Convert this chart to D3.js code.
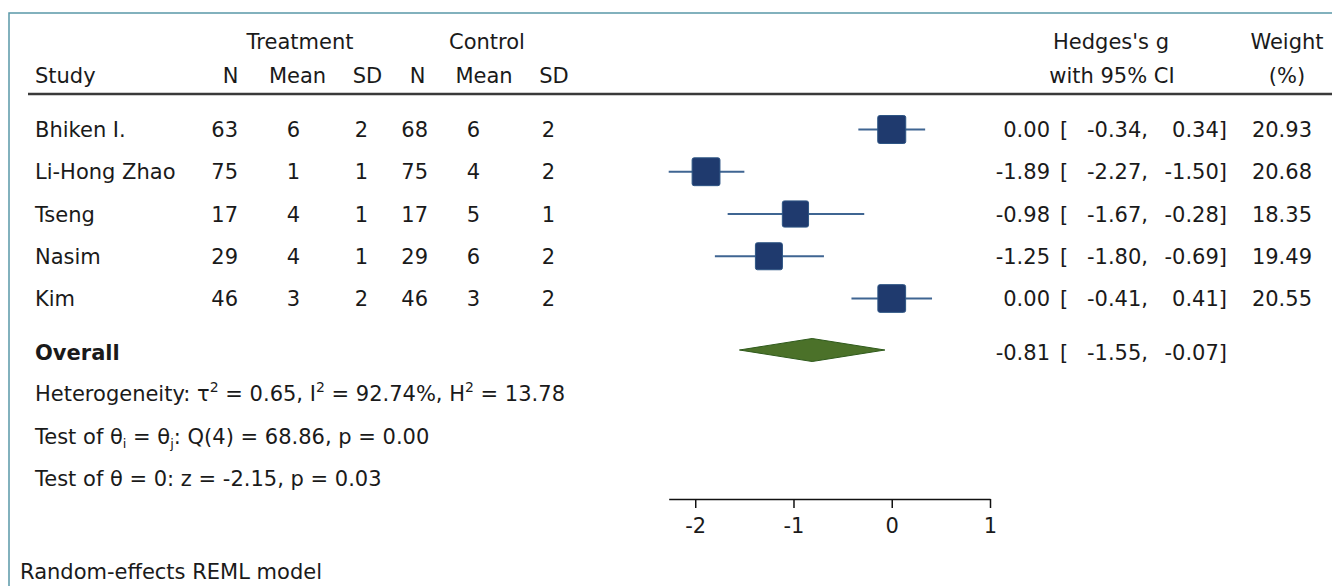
<!DOCTYPE html>
<html>
<head>
<meta charset="utf-8">
<script src="https://cdn.jsdelivr.net/npm/d3@7"></script>
<style>
  body { margin: 0; background: #fff; }
  svg { display: block; }
  text { font-family: "DejaVu Sans", sans-serif; font-size: 21px; fill: #1a1a1a; }
</style>
</head>
<body>
<svg width="1332" height="586"></svg>
<script>
// study table
var studies  = ["Bhiken I.", "Li-Hong Zhao", "Tseng", "Nasim", "Kim"];
var trtN     = [63, 75, 17, 29, 46];
var trtMean  = [6, 1, 4, 4, 3];
var trtSD    = [2, 1, 1, 1, 2];
var ctlN     = [68, 75, 17, 29, 46];
var ctlMean  = [6, 4, 5, 6, 3];
var ctlSD    = [2, 2, 1, 2, 2];

// effect sizes (Hedges's g, 95% CI) and weights
var hedgesG  = [0.00, -1.89, -0.98, -1.25, 0.00];
var ciLow    = [-0.34, -2.27, -1.67, -1.80, -0.41];
var ciHigh   = [0.34, -1.50, -0.28, -0.69, 0.41];
var weights  = [20.93, 20.68, 18.35, 19.49, 20.55];

var overallG = -0.81, overallLow = -1.55, overallHigh = -0.07;
var axisTicks = [-2, -1, 0, 1];

var svg = d3.select("svg");
var fmt = v => v.toFixed(2);   // plain hyphen minus, like the original

// x scale for the forest plot
var x = d3.scaleLinear()
    .domain([d3.min(ciLow), 1])
    .range([668.7, 990]);

// row centers
var y = d3.scaleLinear()
    .domain([0, studies.length - 1])
    .range([129.5, 298.5]);
var overallY = 350;
var base = 7.5;   // center -> text baseline

var side = d3.scaleSqrt()
    .domain([0, d3.max(weights)])
    .range([0, 28]);

// frame
svg.append("path")
    .attr("d", "M9,586V13H1332")
    .attr("fill", "none")
    .attr("stroke", "#5a98a8")
    .attr("stroke-width", 1.5);

// headers
function label(tx, ty, str, anchor) {
    return svg.append("text")
        .attr("x", tx).attr("y", ty)
        .attr("text-anchor", anchor || "start")
        .text(str);
}
label(300, 49, "Treatment", "middle");
label(487, 49, "Control", "middle");
label(1111, 49, "Hedges's g", "middle");
label(1287, 49, "Weight", "middle");

label(35, 83, "Study");
var subHeads = [["N", 230.5], ["Mean", 297.5], ["SD", 367.5], ["N", 417.5], ["Mean", 484], ["SD", 554]];
subHeads.forEach(h => label(h[1], 83, h[0], "middle"));
label(1112, 83, "with 95% CI", "middle");
label(1287, 83, "(%)", "middle");

svg.append("line")
    .attr("x1", 28).attr("x2", 1332)
    .attr("y1", 94).attr("y2", 94)
    .attr("stroke", "#3a3a3a")
    .attr("stroke-width", 2.5);

// table columns
var columns = [
    { vals: trtN, x: 238 },
    { vals: trtMean, x: 300 },
    { vals: trtSD, x: 368 },
    { vals: ctlN, x: 428 },
    { vals: ctlMean, x: 480 },
    { vals: ctlSD, x: 555 }
];

studies.forEach((s, i) => {
    var ty = y(i) + base;
    label(35, ty, s);
    columns.forEach(c => label(c.x, ty, c.vals[i], "end"));
    label(1050, ty, fmt(hedgesG[i]), "end");
    label(1060, ty, "[");
    label(1148, ty, fmt(ciLow[i]) + ",", "end");
    label(1227, ty, fmt(ciHigh[i]) + "]", "end");
    label(1312, ty, fmt(weights[i]), "end");
});

// CI lines
svg.append("g").selectAll("line")
    .data(studies)
    .enter()
    .append("line")
    .attr("x1", (d, i) => x(ciLow[i]))
    .attr("x2", (d, i) => x(ciHigh[i]))
    .attr("y1", (d, i) => y(i))
    .attr("y2", (d, i) => y(i))
    .attr("stroke", "#3f6592")
    .attr("stroke-width", 2);

// weight squares
svg.append("g").selectAll("rect")
    .data(studies)
    .enter()
    .append("rect")
    .attr("x", (d, i) => x(hedgesG[i]) - side(weights[i]) / 2)
    .attr("y", (d, i) => y(i) - side(weights[i]) / 2)
    .attr("width", (d, i) => side(weights[i]))
    .attr("height", (d, i) => side(weights[i]))
    .attr("rx", 2)
    .attr("fill", "#1f3a6e")
    .attr("stroke", "#2e5584")
    .attr("stroke-width", 1);

// overall diamond
var dh = 11.5;
svg.append("path")
    .attr("d", "M" + x(overallLow) + "," + overallY +
               "L" + x(overallG) + "," + (overallY - dh) +
               "L" + x(overallHigh) + "," + overallY +
               "L" + x(overallG) + "," + (overallY + dh) + "Z")
    .attr("fill", "#4b7129")
    .attr("stroke", "#2f5a1c")
    .attr("stroke-width", 1);

var oy = overallY + base + 2;
label(35, oy, "Overall").attr("font-weight", "bold");
label(1050, oy, fmt(overallG), "end");
label(1060, oy, "[");
label(1148, oy, fmt(overallLow) + ",", "end");
label(1227, oy, fmt(overallHigh) + "]", "end");

// heterogeneity notes
var het = label(35, 393 + base, "Heterogeneity: τ");
het.append("tspan").attr("dy", -9).attr("font-size", "14px").text("2");
het.append("tspan").attr("dy", 9).text(" = 0.65, I");
het.append("tspan").attr("dy", -9).attr("font-size", "14px").text("2");
het.append("tspan").attr("dy", 9).text(" = 92.74%, H");
het.append("tspan").attr("dy", -9).attr("font-size", "14px").text("2");
het.append("tspan").attr("dy", 9).text(" = 13.78");

var tq = label(35, 436 + base, "Test of θ");
tq.append("tspan").attr("dy", 4).attr("font-size", "13px").text("i");
tq.append("tspan").attr("dy", -4).text(" = θ");
tq.append("tspan").attr("dy", 4).attr("font-size", "13px").text("j");
tq.append("tspan").attr("dy", -4).text(": Q(4) = 68.86, p = 0.00");

label(35, 478 + base, "Test of θ = 0: z = -2.15, p = 0.03");

// axis
var axis = svg.append("g")
    .attr("transform", "translate(0,499)")
    .call(d3.axisBottom(x)
        .tickValues(axisTicks)
        .tickSize(9)
        .tickSizeOuter(0)
        .tickPadding(10)
        .tickFormat(d => String(d)));
axis.select(".domain").attr("stroke", "#111").attr("stroke-width", 1.5);
axis.selectAll(".tick line").attr("stroke", "#111").attr("stroke-width", 1.5);
axis.selectAll(".tick text")
    .attr("font-size", "21px")
    .attr("font-family", "'DejaVu Sans', sans-serif")
    .attr("fill", "#1a1a1a");

label(20, 579, "Random-effects REML model");
</script>
</body>
</html>
